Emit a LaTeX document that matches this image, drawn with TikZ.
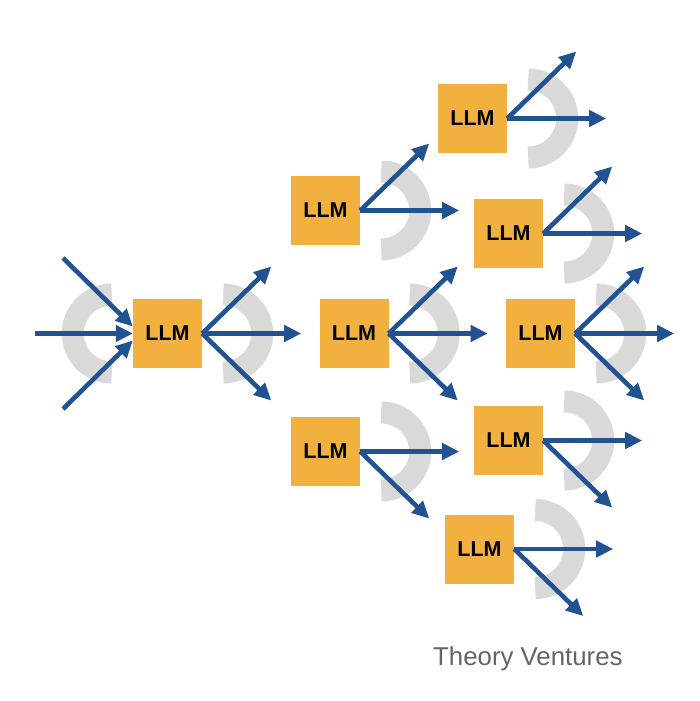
\documentclass[tikz,border=0pt]{standalone}
\usepackage{fontspec}
\setmainfont{Liberation Sans}
\usetikzlibrary{arrows.meta,calc}
\definecolor{llmorange}{RGB}{242,177,62}
\definecolor{flowblue}{RGB}{33,82,145}
\definecolor{ringgray}{RGB}{217,217,217}
\definecolor{brandgray}{RGB}{100,100,100}
\begin{document}
\begin{tikzpicture}[x=1pt,y=1pt,
  llmbox/.style={fill=llmorange,minimum width=69pt,minimum height=69pt,inner sep=0pt,
    font=\fontsize{21.5}{24}\selectfont\bfseries,text=black},
  flow/.style={draw=flowblue,line width=4.6pt,-{Triangle[length=17pt,width=16pt]}},
  ring/.style={draw=ringgray,line width=22pt}]
\useasboundingbox (0,0) rectangle (700,-701);
\fill[white] (0,0) rectangle (700,-701);

% boxes
\node[llmbox] (b1) at (167.5,-333.5) {LLM};
\node[llmbox] (ba) at (325.5,-210.5) {LLM};
\node[llmbox] (bb) at (354,-333.5) {LLM};
\node[llmbox] (bc) at (325.5,-451.5) {LLM};
\node[llmbox] (bd) at (472.5,-118.5) {LLM};
\node[llmbox] (be) at (508.5,-233.5) {LLM};
\node[llmbox] (bf) at (540.5,-333.5) {LLM};
\node[llmbox] (bg) at (508.5,-440.5) {LLM};
\node[llmbox] (bh) at (479.5,-549) {LLM};

% rings
\draw[ring] ($(b1.west)+(-21,39)$) arc[start angle=90,end angle=270,radius=39];
\foreach \b in {b1,ba,bb,bc,bd,be,bf,bg,bh}{
  \draw[ring] ($(\b.east)+(21,39)$) arc[start angle=90,end angle=-90,radius=39];
}

% incoming arrows to b1
\coordinate (in1) at (63,-258);
\coordinate (in2) at (35,-333.5);
\coordinate (in3) at (63,-409);
\draw[flow] (in1) -- ([yshift=7pt]b1.west);
\draw[flow] (in2) -- (b1.west);
\draw[flow] (in3) -- ([yshift=-7pt]b1.west);

% outgoing arrows
\foreach \b/\u/\h/\d in {b1/1/1/1, ba/1/1/0, bb/1/1/1, bc/0/1/1, bd/1/1/0, be/1/1/0, bf/1/1/1, bg/0/1/1, bh/0/1/1}{
  \coordinate (\b-up) at ($(\b.east)+(69,67)$);
  \coordinate (\b-mid) at ($(\b.east)+(99,0)$);
  \coordinate (\b-down) at ($(\b.east)+(69,-67)$);
  \ifnum\u=1 \draw[flow] (\b.east) -- (\b-up); \fi
  \ifnum\h=1 \draw[flow] (\b.east) -- (\b-mid); \fi
  \ifnum\d=1 \draw[flow] (\b.east) -- (\b-down); \fi
}

\node[anchor=base west,inner sep=0pt,text=brandgray,font=\fontsize{25.8}{30}\selectfont] (brand) at (433,-665) {Theory Ventures};
\end{tikzpicture}
\end{document}
